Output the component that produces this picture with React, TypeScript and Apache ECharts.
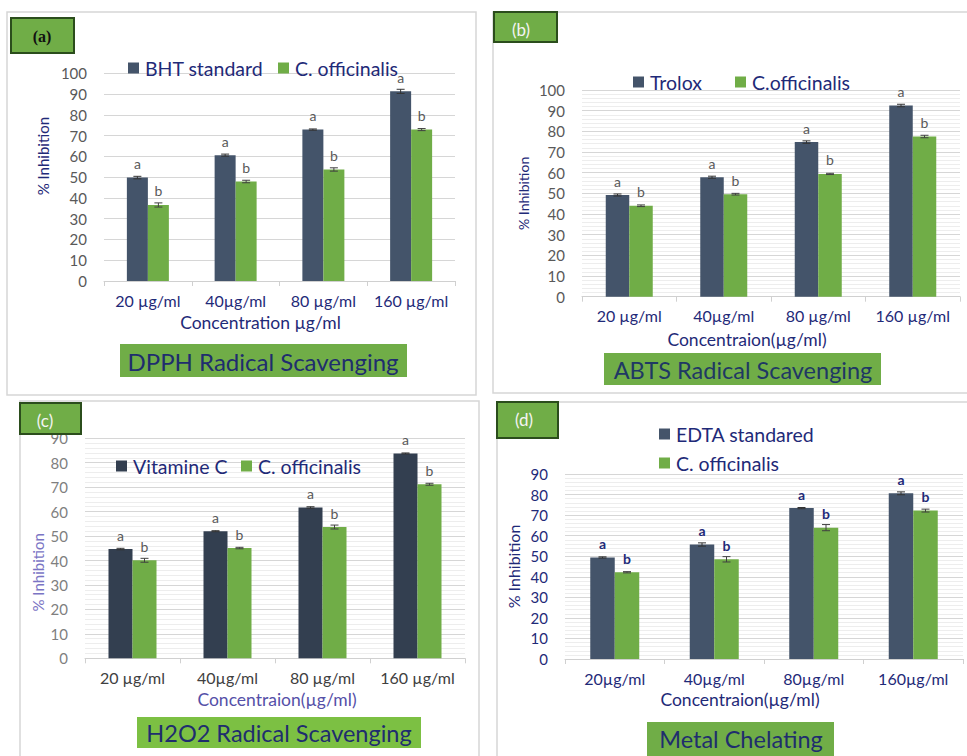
import React, { useEffect, useRef } from 'react';
import * as echarts from 'echarts';

// ---------- data ----------
const catsA = ['20 µg/ml', '40µg/ml', '80 µg/ml', '160 µg/ml'];
const bhtA = [49.8, 60.6, 72.9, 91.3];
const bhtErrA = [0.6, 0.5, 0.3, 1.0];
const offA = [36.6, 47.9, 53.7, 72.9];
const offErrA = [1.0, 0.6, 0.8, 0.5];

const catsB = ['20 µg/ml', '40µg/ml', '80 µg/ml', '160 µg/ml'];
const troloxB = [49.2, 57.8, 74.8, 92.5];
const troloxErrB = [0.5, 0.5, 0.6, 0.6];
const offB = [44.0, 49.6, 59.4, 77.5];
const offErrB = [0.4, 0.4, 0.3, 0.6];

const catsC = ['20 µg/ml', '40µg/ml', '80 µg/ml', '160 µg/ml'];
const vitC = [44.7, 52.0, 61.7, 83.8];
const vitErrC = [0.3, 0.2, 0.3, 0.2];
const offC = [40.1, 45.1, 53.7, 71.2];
const offErrC = [0.8, 0.3, 0.8, 0.4];

const catsD = ['20µg/ml', '40µg/ml', '80µg/ml', '160µg/ml'];
const edtaD = [49.4, 55.7, 73.4, 80.6];
const edtaErrD = [0.3, 0.8, 0.3, 0.7];
const offD = [42.2, 48.5, 63.9, 72.2];
const offErrD = [0.3, 1.3, 1.5, 0.7];

const yTicksAB = { min: 0, max: 100, interval: 10 };
const yTicksCD = { min: 0, max: 90, interval: 10 };

// ---------- styles ----------
const FONT = 'Lato, "Open Sans", sans-serif';
const NAVY = '#1f2a78';
const GREEN = '#70ad47';

type Panel = {
  cats: string[];
  s1Name: string;
  s1: number[];
  s1Err: number[];
  s2Name: string;
  s2: number[];
  s2Err: number[];
  ticks: { min: number; max: number; interval: number };
  grid: { left: number; top: number; width: number; height: number };
  barWidth: number;
  dark: string;
  tickColor: string;
  catColor: string;
  xTitle: string;
  xTitleColor: string;
  xGap: number;
  xShift: number;
  yTitleColor: string;
  yTitleSize: number;
  yGap: number;
  yShift: number;
  letterColor: string;
  letterWeight: string;
  minor: boolean;
  leg1: [number, number];
  leg2: [number, number];
};

const panels: Panel[] = [
  {
    cats: catsA, s1Name: 'BHT standard', s1: bhtA, s1Err: bhtErrA, s2Name: 'C. officinalis', s2: offA, s2Err: offErrA,
    ticks: yTicksAB, grid: { left: 104, top: 73.3, width: 351, height: 207.7 }, barWidth: 21, dark: '#44546a',
    tickColor: '#595959', catColor: NAVY, xTitle: 'Concentration µg/ml', xTitleColor: NAVY, xGap: 32, xShift: -19,
    yTitleColor: NAVY, yTitleSize: 15, yGap: 54, yShift: 21, letterColor: '#595959', letterWeight: 'normal', minor: false,
    leg1: [128, 68], leg2: [278, 68],
  },
  {
    cats: catsB, s1Name: 'Trolox', s1: troloxB, s1Err: troloxErrB, s2Name: 'C.officinalis', s2: offB, s2Err: offErrB,
    ticks: yTicksAB, grid: { left: 582, top: 90, width: 378, height: 206.7 }, barWidth: 23.5, dark: '#44546a',
    tickColor: '#595959', catColor: NAVY, xTitle: 'Concentraion(µg/ml)', xTitleColor: NAVY, xGap: 34, xShift: -24,
    yTitleColor: NAVY, yTitleSize: 14, yGap: 52, yShift: 0, letterColor: '#595959', letterWeight: 'normal', minor: true,
    leg1: [633, 82], leg2: [735, 82],
  },
  {
    cats: catsC, s1Name: 'Vitamine C', s1: vitC, s1Err: vitErrC, s2Name: 'C. officinalis', s2: offC, s2Err: offErrC,
    ticks: yTicksCD, grid: { left: 85, top: 438.3, width: 380, height: 220 }, barWidth: 24, dark: '#333f50',
    tickColor: '#7f7f7f', catColor: '#404040', xTitle: 'Concentraion(µg/ml)', xTitleColor: '#5550a8', xGap: 32, xShift: 2,
    yTitleColor: '#7a74c4', yTitleSize: 15, yGap: 40, yShift: -24, letterColor: '#595959', letterWeight: 'normal', minor: true,
    leg1: [116, 466], leg2: [241, 466],
  },
  {
    cats: catsD, s1Name: 'EDTA standared', s1: edtaD, s1Err: edtaErrD, s2Name: 'C. officinalis', s2: offD, s2Err: offErrD,
    ticks: yTicksCD, grid: { left: 565, top: 474, width: 398, height: 185 }, barWidth: 24.5, dark: '#44546a',
    tickColor: NAVY, catColor: NAVY, xTitle: 'Concentraion(µg/ml)', xTitleColor: NAVY, xGap: 31, xShift: -24,
    yTitleColor: NAVY, yTitleSize: 16, yGap: 44, yShift: 0, letterColor: NAVY, letterWeight: 'bold', minor: true,
    leg1: [659, 434], leg2: [659, 463],
  },
];

function errorSeries(idx: number, values: number[], errs: number[], offsetPx: number, color: string) {
  return {
    type: 'custom',
    xAxisIndex: idx,
    yAxisIndex: idx,
    silent: true,
    z: 5,
    data: values.map((v, i) => [i, v, errs[i]]),
    encode: { x: 0, y: 1 },
    renderItem: (_params: any, api: any) => {
      const i = api.value(0);
      const v = api.value(1);
      const e = api.value(2);
      const hi = api.coord([i, v + e]);
      const lo = api.coord([i, v - e]);
      const x = hi[0] + offsetPx;
      const cap = 4;
      const st = { stroke: color, lineWidth: 1 };
      return {
        type: 'group',
        children: [
          { type: 'line', shape: { x1: x, y1: hi[1], x2: x, y2: lo[1] }, style: st },
          { type: 'line', shape: { x1: x - cap, y1: hi[1], x2: x + cap, y2: hi[1] }, style: st },
          { type: 'line', shape: { x1: x - cap, y1: lo[1], x2: x + cap, y2: lo[1] }, style: st },
        ],
      };
    },
  };
}

function buildOption() {
  const grid: any[] = [];
  const xAxis: any[] = [];
  const yAxis: any[] = [];
  const series: any[] = [];
  const legend: any[] = [];

  panels.forEach((p, idx) => {
    grid.push({ ...p.grid, containLabel: false });
    const xs = p.xShift;
    xAxis.push({
      type: 'category',
      gridIndex: idx,
      data: p.cats,
      axisLine: { show: true, lineStyle: { color: '#d0d0d0', width: 1 } },
      axisTick: { show: true, length: 5, lineStyle: { color: '#d0d0d0' } },
      axisLabel: { interval: 0, color: p.catColor, fontSize: 16, fontFamily: FONT, margin: 11 },
      name: p.xTitle,
      nameLocation: 'middle',
      nameGap: p.xGap,
      nameTextStyle: {
        color: p.xTitleColor,
        fontSize: 17.5,
        fontFamily: FONT,
        padding: xs < 0 ? [0, -2 * xs, 0, 0] : [0, 0, 0, 2 * xs],
      },
    });
    const ys = p.yShift;
    yAxis.push({
      type: 'value',
      gridIndex: idx,
      min: p.ticks.min,
      max: p.ticks.max,
      interval: p.ticks.interval,
      axisLine: { show: false },
      axisTick: { show: false },
      axisLabel: { color: p.tickColor, fontSize: 15, fontFamily: FONT, margin: 17 },
      splitLine: { show: true, lineStyle: { color: '#d6d6d6', width: 1 } },
      minorTick: { show: false, splitNumber: 5 },
      minorSplitLine: { show: p.minor, lineStyle: { color: '#ededed', width: 1 } },
      name: '% Inhibition',
      nameLocation: 'middle',
      nameRotate: 90,
      nameGap: p.yGap,
      nameTextStyle: {
        color: p.yTitleColor,
        fontSize: p.yTitleSize,
        fontFamily: FONT,
        padding: ys > 0 ? [0, 0, 0, 2 * ys] : [0, -2 * ys, 0, 0],
      },
    });
    const lbl = (t: string) => ({
      show: true,
      position: 'top',
      distance: 7,
      formatter: t,
      color: p.letterColor,
      fontSize: 14,
      fontWeight: p.letterWeight,
      fontFamily: FONT,
    });
    series.push({
      type: 'bar',
      name: p.s1Name,
      xAxisIndex: idx,
      yAxisIndex: idx,
      data: p.s1,
      barWidth: p.barWidth,
      barGap: '0%',
      itemStyle: { color: p.dark },
      label: lbl('a'),
    });
    series.push({
      type: 'bar',
      name: p.s2Name,
      xAxisIndex: idx,
      yAxisIndex: idx,
      data: p.s2,
      barWidth: p.barWidth,
      barGap: '0%',
      itemStyle: { color: GREEN },
      label: lbl('b'),
    });
    series.push(errorSeries(idx, p.s1, p.s1Err, -p.barWidth / 2, '#333333'));
    series.push(errorSeries(idx, p.s2, p.s2Err, p.barWidth / 2, '#404040'));

    const legItem = (name: string, pos: [number, number]) => ({
      data: [name],
      left: pos[0],
      top: pos[1] - 10,
      padding: 0,
      icon: 'rect',
      itemWidth: 11,
      itemHeight: 11,
      selectedMode: false,
      textStyle: { color: NAVY, fontSize: 19.5, lineHeight: 20, fontFamily: FONT, padding: [0, 0, 0, 1] },
    });
    legend.push(legItem(p.s1Name, p.leg1));
    legend.push(legItem(p.s2Name, p.leg2));
  });

  const txt = (x: number, y: number, text: string, fontSize: number, fill: string, extra: any = {}) => ({
    type: 'text',
    x,
    y,
    z: 100,
    style: {
      text,
      fontSize,
      fontFamily: FONT,
      fill,
      align: 'center',
      verticalAlign: 'middle',
      textAlign: 'center',
      textVerticalAlign: 'middle',
      ...extra,
    },
  });
  const box = (x: number, y: number, w: number, h: number, fill: string, stroke?: string, lw = 0) => ({
    type: 'rect',
    z: 90,
    shape: { x, y, width: w, height: h },
    style: { fill, stroke: stroke || 'none', lineWidth: lw },
  });

  const graphic: any[] = [
    // panel frames
    box(7, 12, 469, 383, 'none', '#d6d6d6', 1.5),
    box(493, 12, 490, 381, 'none', '#d6d6d6', 1.5),
    box(20, 401, 459, 370, 'none', '#d6d6d6', 1.5),
    box(497, 402, 490, 370, 'none', '#d6d6d6', 1.5),
    // panel tags
    box(11, 18, 63, 35, GREEN, '#2b4d1c', 2),
    txt(42, 36, '(a)', 16, '#111111', { fontFamily: '"Liberation Serif", serif', fontWeight: 'bold' }),
    box(494, 12, 63, 30, GREEN, '#2b4d1c', 2),
    txt(521, 29, '(b)', 17, '#f4f4f4'),
    box(20, 403, 61, 31, GREEN, '#2b4d1c', 2),
    txt(45, 420, '(c)', 17, '#f4f4f4'),
    box(497, 402, 61, 36, GREEN, '#2b4d1c', 2),
    txt(524, 419, '(d)', 17, '#f4f4f4'),
    // subtitles
    box(120, 344, 287, 33, GREEN),
    txt(263, 361, 'DPPH Radical Scavenging', 24, '#1f2d6e'),
    box(604, 353, 277, 32, GREEN),
    txt(743, 370, 'ABTS Radical Scavenging', 23.5, '#1f3864'),
    box(137, 717, 284, 31, '#7cc043'),
    txt(279, 733, 'H2O2 Radical Scavenging', 23.5, '#1f2d6e'),
    box(647, 722, 187, 34, GREEN),
    txt(741, 739, 'Metal Chelating', 23.5, '#1f2d6e'),
  ];

  return {
    animation: false,
    backgroundColor: '#ffffff',
    grid,
    xAxis,
    yAxis,
    series,
    legend,
    graphic,
  };
}

export default function App() {
  const ref = useRef<HTMLDivElement>(null);
  useEffect(() => {
    if (!ref.current) return;
    const chart = echarts.init(ref.current, undefined, { renderer: 'svg' });
    chart.setOption(buildOption() as any);
    return () => chart.dispose();
  }, []);
  return (
    <div
      ref={ref}
      style={{ position: 'absolute', left: 0, top: 0, width: 967, height: 756, background: '#fff' }}
    />
  );
}
